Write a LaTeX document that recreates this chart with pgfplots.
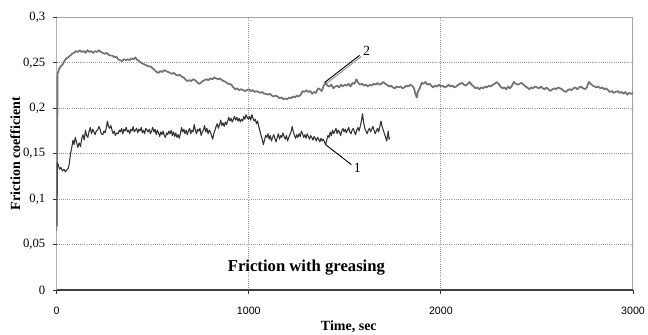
\documentclass[border=0pt]{standalone}
\usepackage{pgfplots}
\pgfplotsset{compat=1.18}
\usepackage{fontspec}
\setmainfont{Liberation Serif}
\newfontfamily\arial{Liberation Sans}
\begin{document}
\begin{tikzpicture}
\begin{axis}[
  name=ax,
  scale only axis,
  width=432.2pt, height=204.4pt,
  xmin=0, xmax=3000, ymin=0, ymax=0.3,
  xtick={0,1000,2000,3000},
  xticklabels={0,1000,2000,3000},
  ytick={0,0.05,0.1,0.15,0.2,0.25,0.3},
  yticklabels={0,{0,05},{0,1},{0,15},{0,2},{0,25},{0,3}},
  /pgf/number format/assume math mode=true,
  /pgf/number format/1000 sep={},
  scaled x ticks=false,
  xticklabel style={font=\arial\fontsize{8}{10}\selectfont, yshift=-6pt},
  yticklabel style={font=\fontsize{9.5}{11}\selectfont, xshift=-2pt},
  tick align=outside,
  major tick length=3pt,
  xtick pos=bottom, ytick pos=left,
  axis line style={draw=none},
  grid=none,
  clip=true,
  xlabel={\textbf{Time, sec}},
  ylabel={\textbf{Friction coefficient}},
  xlabel style={font=\fontsize{10.5}{12}\selectfont, at={(axis description cs:0.5,0)}, anchor=center, yshift=-27.5pt, xshift=3pt},
  ylabel style={font=\fontsize{10.5}{12}\selectfont, at={(axis description cs:0,0.5)}, anchor=center, rotate=0, yshift=31pt},
  tick style={black!80, line width=0.6pt},
]
% grid
\foreach \yy in {0.05,0.1,0.15,0.2,0.25} {
  \edef\tmp{\noexpand\draw[gray!80, densely dotted, line width=0.6pt] (axis cs:0,\yy) -- (axis cs:3000,\yy);}\tmp
}
\draw[gray!80, densely dotted, line width=0.6pt] (axis cs:1000,0) -- (axis cs:1000,0.3);
\draw[gray!80, densely dotted, line width=0.6pt] (axis cs:2000,0) -- (axis cs:2000,0.3);
% frame
\draw[gray!70, line width=0.8pt] (axis cs:0,0.3) -- (axis cs:3000,0.3) -- (axis cs:3000,0);

% curve 2
\addplot[color=black!55, line width=1.3pt, line join=round] coordinates {
(0,0.07) (5,0.238) (12,0.243) (20,0.246) (30,0.248) (40,0.252) (50,0.255) (60,0.256) (70,0.258) (80,0.260) (90,0.261)
(100,0.263) (110,0.262) (120,0.264) (130,0.262) (140,0.263) (150,0.261) (160,0.264) (170,0.262) (180,0.263) (190,0.261)
(200,0.263) (210,0.262) (220,0.264) (230,0.262) (240,0.261) (250,0.260) (260,0.261) (270,0.259) (280,0.258) (290,0.258)
(300,0.256) (310,0.257) (320,0.254) (330,0.253) (340,0.252) (350,0.254) (360,0.253) (370,0.254) (380,0.253) (390,0.255)
(400,0.254) (410,0.256) (420,0.253) (430,0.252) (440,0.250) (450,0.249) (460,0.248) (470,0.247) (480,0.246) (490,0.246)
(500,0.244) (510,0.242) (520,0.240) (530,0.239) (540,0.241) (550,0.240) (560,0.242) (570,0.241) (580,0.240) (590,0.239)
(600,0.238) (610,0.239) (620,0.237) (630,0.236) (640,0.237) (650,0.235) (660,0.234) (670,0.232) (680,0.230) (690,0.231)
(700,0.230) (710,0.232) (720,0.231) (730,0.229) (740,0.227) (750,0.228) (760,0.230) (770,0.231) (780,0.232) (790,0.231)
(800,0.233) (810,0.232) (820,0.234) (830,0.233) (840,0.232) (850,0.233) (860,0.231) (870,0.230) (880,0.229) (890,0.227)
(900,0.227) (910,0.226) (920,0.223) (930,0.221) (940,0.222) (950,0.220) (960,0.221) (970,0.220) (980,0.219) (990,0.220)
(1000,0.221) (1010,0.219) (1020,0.220) (1030,0.218) (1040,0.219) (1050,0.218) (1060,0.217) (1070,0.218) (1080,0.216) (1090,0.216)
(1100,0.215) (1110,0.216) (1120,0.214) (1130,0.213) (1140,0.214) (1150,0.213) (1160,0.211) (1170,0.212) (1180,0.210) (1190,0.211)
(1200,0.210) (1210,0.212) (1220,0.211) (1230,0.213) (1240,0.212) (1250,0.214) (1260,0.213) (1270,0.215) (1280,0.219) (1290,0.218)
(1300,0.220) (1310,0.218) (1320,0.219) (1330,0.216) (1340,0.218) (1350,0.217) (1360,0.222) (1370,0.221) (1380,0.219) (1390,0.225)
(1400,0.228) (1410,0.225) (1420,0.224) (1430,0.226) (1440,0.222) (1450,0.224) (1460,0.225) (1470,0.223) (1480,0.226) (1490,0.224)
(1500,0.226) (1510,0.225) (1520,0.227) (1530,0.224) (1540,0.228) (1550,0.227) (1560,0.232) (1570,0.228) (1580,0.226) (1590,0.227)
(1600,0.225) (1610,0.226) (1620,0.224) (1630,0.226) (1640,0.225) (1650,0.227) (1660,0.226) (1670,0.228) (1680,0.226) (1690,0.227)
(1700,0.229) (1710,0.227) (1720,0.226) (1730,0.224) (1740,0.225) (1750,0.223) (1760,0.222) (1770,0.224) (1780,0.223) (1790,0.224)
(1800,0.222) (1810,0.223) (1820,0.225) (1830,0.224) (1840,0.226) (1850,0.225) (1860,0.222) (1870,0.214) (1875,0.212) (1880,0.218)
(1890,0.222) (1900,0.228) (1910,0.227) (1920,0.229) (1930,0.226) (1940,0.227) (1950,0.225) (1960,0.223) (1970,0.225) (1980,0.224)
(1990,0.226) (2000,0.224) (2010,0.225) (2020,0.223) (2030,0.224) (2040,0.226) (2050,0.224) (2060,0.225) (2070,0.223) (2080,0.224)
(2090,0.226) (2100,0.227) (2110,0.228) (2120,0.226) (2130,0.225) (2140,0.227) (2150,0.229) (2160,0.226) (2170,0.224) (2180,0.222)
(2190,0.223) (2200,0.221) (2210,0.223) (2220,0.222) (2230,0.224) (2240,0.223) (2250,0.225) (2260,0.224) (2270,0.226) (2280,0.227)
(2290,0.229) (2300,0.227) (2310,0.224) (2320,0.222) (2330,0.223) (2340,0.221) (2350,0.224) (2360,0.222) (2370,0.225) (2380,0.229)
(2390,0.227) (2400,0.226) (2410,0.227) (2420,0.228) (2430,0.226) (2440,0.224) (2450,0.223) (2460,0.221) (2470,0.223) (2480,0.222)
(2490,0.224) (2500,0.223) (2510,0.222) (2520,0.224) (2530,0.222) (2540,0.221) (2550,0.223) (2560,0.221) (2570,0.219) (2580,0.221)
(2590,0.222) (2600,0.221) (2610,0.223) (2620,0.222) (2630,0.221) (2640,0.219) (2650,0.218) (2660,0.220) (2670,0.221) (2680,0.220)
(2690,0.222) (2700,0.223) (2710,0.221) (2720,0.223) (2730,0.224) (2740,0.222) (2750,0.221) (2760,0.223) (2770,0.229) (2780,0.227)
(2790,0.225) (2800,0.224) (2810,0.223) (2820,0.224) (2830,0.222) (2840,0.223) (2850,0.221) (2860,0.222) (2870,0.220) (2880,0.218)
(2890,0.219) (2900,0.217) (2910,0.218) (2920,0.219) (2930,0.217) (2940,0.218) (2950,0.216) (2960,0.218) (2970,0.215) (2980,0.217)
(2990,0.216) (3000,0.217)
};

% curve 1
\addplot[color=black!80, line width=0.8pt, line join=round] coordinates {
(0,0.065) (3,0.14) (8,0.138) (15,0.133) (22,0.135) (30,0.131) (38,0.133) (45,0.130) (52,0.132) (60,0.134) (65,0.138)
(72,0.150) (78,0.156) (85,0.165) (90,0.160) (97,0.168) (103,0.163) (110,0.157) (117,0.162) (124,0.158) (130,0.166)
(137,0.171) (143,0.165) (150,0.176) (156,0.170) (162,0.168) (168,0.174) (175,0.179) (181,0.172) (188,0.177) (194,0.174)
(200,0.171) (206,0.175) (213,0.176) (220,0.180) (226,0.177) (232,0.172) (240,0.171) (246,0.175) (252,0.173) (258,0.178)
(264,0.186) (270,0.180) (276,0.178) (282,0.181) (288,0.176) (294,0.172) (300,0.175) (306,0.170) (312,0.173) (320,0.172)
(326,0.176) (332,0.174) (338,0.178) (344,0.172) (350,0.177) (356,0.175) (362,0.179) (368,0.174) (374,0.176) (380,0.172)
(386,0.177) (392,0.175) (398,0.180) (404,0.174) (410,0.176) (416,0.178) (422,0.173) (428,0.177) (434,0.175) (440,0.179)
(446,0.173) (452,0.176) (458,0.172) (464,0.178) (470,0.176) (476,0.174) (482,0.177) (488,0.172) (494,0.175) (500,0.179)
(506,0.174) (512,0.177) (518,0.171) (524,0.176) (530,0.173) (536,0.169) (542,0.174) (548,0.171) (554,0.175) (560,0.170)
(566,0.168) (572,0.173) (578,0.171) (584,0.175) (590,0.172) (596,0.176) (602,0.170) (608,0.174) (614,0.169) (620,0.173)
(626,0.168) (632,0.171) (638,0.167) (644,0.172) (650,0.179) (656,0.174) (662,0.177) (668,0.172) (674,0.176) (680,0.171)
(686,0.175) (692,0.178) (698,0.172) (704,0.176) (710,0.174) (716,0.182) (722,0.176) (728,0.172) (734,0.177) (740,0.175)
(746,0.178) (752,0.170) (758,0.174) (764,0.176) (770,0.181) (776,0.174) (782,0.178) (788,0.172) (794,0.176) (800,0.174)
(806,0.170) (812,0.166) (818,0.172) (824,0.176) (830,0.180) (836,0.183) (842,0.178) (848,0.182) (854,0.187) (860,0.181)
(866,0.184) (872,0.180) (878,0.185) (884,0.182) (890,0.186) (896,0.190) (902,0.186) (908,0.189) (914,0.185) (920,0.188)
(926,0.191) (932,0.187) (938,0.190) (944,0.186) (950,0.189) (956,0.185) (962,0.188) (968,0.186) (974,0.191) (980,0.188)
(986,0.193) (992,0.190) (998,0.188) (1004,0.191) (1010,0.187) (1016,0.193) (1022,0.189) (1028,0.186) (1034,0.188) (1040,0.183)
(1046,0.186) (1052,0.180) (1058,0.175) (1064,0.170) (1070,0.166) (1076,0.160) (1082,0.165) (1088,0.170) (1094,0.168) (1100,0.172)
(1106,0.166) (1112,0.170) (1118,0.164) (1124,0.168) (1130,0.171) (1136,0.167) (1142,0.163) (1148,0.168) (1154,0.172) (1160,0.166)
(1166,0.170) (1172,0.168) (1178,0.173) (1184,0.169) (1190,0.166) (1196,0.170) (1202,0.164) (1208,0.168) (1214,0.171) (1220,0.174)
(1226,0.180) (1232,0.174) (1238,0.170) (1244,0.167) (1250,0.171) (1256,0.168) (1262,0.172) (1268,0.169) (1274,0.175) (1280,0.172)
(1286,0.168) (1292,0.171) (1298,0.167) (1304,0.172) (1310,0.169) (1316,0.166) (1322,0.170) (1328,0.168) (1334,0.165) (1340,0.169)
(1346,0.167) (1352,0.164) (1358,0.168) (1364,0.166) (1370,0.163) (1376,0.167) (1382,0.164) (1388,0.166) (1394,0.163) (1400,0.160)
(1406,0.165) (1412,0.170) (1418,0.168) (1424,0.174) (1430,0.170) (1436,0.176) (1442,0.172) (1448,0.175) (1454,0.178) (1460,0.172)
(1466,0.176) (1472,0.174) (1478,0.170) (1484,0.175) (1490,0.178) (1496,0.174) (1502,0.177) (1508,0.173) (1514,0.176) (1520,0.179)
(1526,0.174) (1532,0.172) (1538,0.176) (1544,0.178) (1550,0.174) (1556,0.171) (1562,0.176) (1568,0.179) (1574,0.175) (1580,0.180)
(1586,0.186) (1592,0.194) (1598,0.184) (1604,0.178) (1610,0.175) (1616,0.172) (1622,0.176) (1628,0.178) (1634,0.174) (1640,0.177)
(1646,0.180) (1652,0.176) (1658,0.172) (1664,0.175) (1670,0.178) (1676,0.174) (1682,0.180) (1688,0.186) (1694,0.180) (1700,0.176)
(1706,0.172) (1712,0.168) (1718,0.164) (1722,0.170) (1726,0.175) (1730,0.166) (1734,0.168)
};

% axis lines
\draw[black!85, line width=1pt] (axis cs:0,0) -- (axis cs:0,0.3);
\draw[black!75, line width=0.9pt] (axis cs:0,0) -- (axis cs:3000,0);

% annotations
\draw[black, line width=0.7pt] (axis cs:1395,0.2285) -- (axis cs:1577,0.2583);
\draw[black!45, line width=0.7pt] (axis cs:1408,0.2280) -- (axis cs:1585,0.2570);
\node[font=\fontsize{10.5}{12}\selectfont, anchor=center] at (axis cs:1613,0.2635) {2};
\draw[black, line width=0.7pt] (axis cs:1400,0.160) -- (axis cs:1534,0.138);
\node[font=\fontsize{10.5}{12}\selectfont, anchor=center] at (axis cs:1565,0.1345) {1};
\node[font=\bfseries\fontsize{12.5}{14}\selectfont] at (axis cs:1300,0.0243) {Friction with greasing};
\end{axis}
\pgfresetboundingbox
\path[use as bounding box] ([xshift=-42.5pt,yshift=-33pt]ax.south west) rectangle ([xshift=11.25pt,yshift=13.1pt]ax.north east);
\end{tikzpicture}
\end{document}
